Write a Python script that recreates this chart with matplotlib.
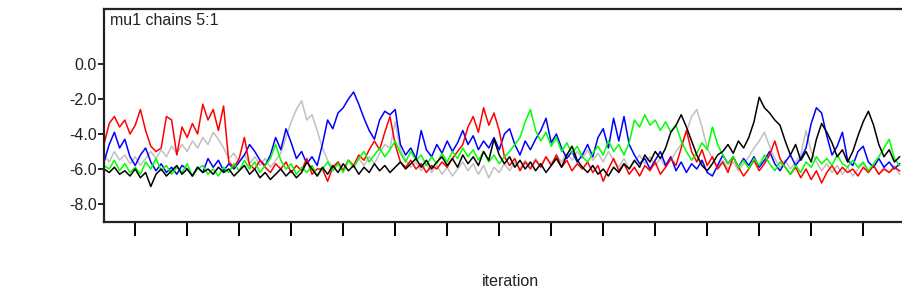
import numpy as np
import matplotlib
matplotlib.use("Agg")
import matplotlib.pyplot as plt

plt.rcParams['font.family'] = ['Liberation Sans', 'DejaVu Sans']

# iteration numbers (one sample every 25 iterations)
iterations = 101 + 25 * np.arange(154)

chain_red = [-4.6, -3.4, -3.0, -3.6, -3.2, -4.0, -3.5, -2.6, -3.8, -4.7,
             -5.0, -4.8, -3.0, -3.2, -5.2, -3.6, -4.2, -3.4, -4.0, -2.3,
             -3.2, -2.6, -3.8, -2.4, -5.6, -5.9, -5.4, -4.2, -5.8, -6.0,
             -5.5, -5.9, -6.2, -5.7, -6.0, -5.6, -6.2, -5.8, -6.1, -5.4,
             -6.3, -6.0, -6.0, -6.7, -5.9, -5.6, -6.1, -5.5, -5.8, -5.2,
             -5.5, -4.9, -4.4, -4.9, -3.9, -3.0, -4.6, -5.6, -5.9, -5.5,
             -6.0, -5.7, -6.2, -5.8, -6.0, -5.6, -5.9, -5.4, -5.0, -4.6,
             -3.6, -3.0, -3.9, -2.5, -3.5, -2.8, -3.8, -5.3, -5.8, -5.4,
             -6.1, -5.6, -6.0, -5.5, -5.9, -5.3, -5.8, -5.2, -5.9, -5.5,
             -6.1, -5.7, -6.0, -5.6, -6.2, -5.8, -6.7, -6.0, -5.4, -6.1,
             -5.7, -6.3, -5.9, -6.4, -5.8, -6.1, -5.6, -6.3, -5.9, -5.4,
             -5.8, -4.8, -3.8, -5.0, -5.6, -4.9, -5.8, -5.3, -6.0, -5.6,
             -6.2, -5.3, -5.9, -6.4, -6.0, -5.5, -6.1, -5.7, -5.2, -4.4,
             -5.4, -5.9, -6.3, -5.9, -6.5, -6.0, -6.6, -6.1, -6.8, -6.2,
             -5.8, -6.3, -5.9, -6.2, -6.0, -6.4, -5.9, -6.2, -5.8, -6.3,
             -6.0, -6.2, -5.9, -6.1]

chain_blue = [-5.6, -4.6, -3.9, -4.8, -4.3, -5.3, -5.8, -5.2, -4.8, -5.6,
              -6.1, -5.7, -6.2, -5.9, -6.3, -5.8, -6.0, -6.4, -5.9, -6.2,
              -5.4, -5.9, -5.5, -6.1, -5.7, -6.0, -5.6, -5.2, -4.6, -5.0,
              -5.5, -5.8, -5.2, -4.2, -4.9, -3.7, -4.5, -5.4, -5.0, -5.7,
              -5.3, -5.8, -4.6, -3.2, -3.7, -2.8, -2.5, -2.0, -1.6, -2.3,
              -3.1, -3.8, -4.3, -3.2, -2.7, -2.9, -2.6, -4.6, -5.2, -4.8,
              -5.4, -3.8, -4.9, -5.3, -4.6, -5.1, -4.4, -5.0, -4.5, -3.8,
              -4.6, -4.1, -4.9, -4.4, -4.8, -4.2, -4.9, -4.0, -3.7, -4.6,
              -5.2, -4.4, -4.9, -4.3, -3.8, -3.1, -4.5, -4.0, -4.8, -5.4,
              -5.0, -5.6, -5.2, -4.6, -5.3, -4.2, -3.7, -4.8, -3.1, -4.4,
              -3.0, -4.6, -5.2, -5.7, -5.4, -6.0, -5.5, -5.0, -5.8, -5.3,
              -6.1, -5.6, -6.2, -5.7, -6.0, -5.5, -6.2, -6.4, -5.8, -5.2,
              -5.7, -5.3, -5.9, -5.4, -5.8, -5.3, -5.9, -5.5, -5.0, -5.7,
              -6.1, -5.6, -5.2, -5.8, -5.4, -4.8, -3.4, -2.5, -2.8, -4.1,
              -5.2, -4.7, -3.9, -5.5, -5.8, -5.0, -4.7, -5.6, -5.9, -5.4,
              -5.9, -5.6, -6.0, -5.7]

chain_green = [-5.8, -6.0, -5.5, -6.1, -5.7, -6.2, -5.9, -6.3, -5.6, -6.0,
               -5.4, -6.1, -5.8, -6.3, -5.9, -6.2, -5.7, -6.4, -6.0, -5.8,
               -6.3, -6.0, -6.4, -5.9, -6.2, -5.7, -6.1, -5.5, -6.0, -5.6,
               -6.2, -5.8, -5.4, -4.6, -5.5, -6.0, -5.7, -6.3, -5.9, -6.2,
               -5.8, -6.4, -6.0, -5.6, -6.1, -5.7, -6.2, -5.5, -5.9, -5.4,
               -5.0, -5.6, -5.2, -4.8, -5.3, -4.9, -4.4, -5.1, -5.6, -5.0,
               -5.5, -5.2, -5.8, -5.3, -5.7, -5.1, -5.6, -5.0, -5.4, -4.8,
               -5.3, -4.9, -5.5, -5.0, -5.6, -5.2, -5.7, -5.3, -5.0, -4.6,
               -4.2, -3.3, -2.6, -3.8, -4.4, -3.9, -4.7, -4.2, -5.0, -4.5,
               -5.1, -4.7, -5.3, -5.6, -5.1, -4.7, -5.2, -4.4, -5.0, -4.6,
               -5.2, -4.5, -3.2, -3.6, -2.9, -3.5, -3.2, -3.8, -3.3, -3.9,
               -3.5, -4.4, -5.0, -5.5, -5.1, -4.5, -4.9, -3.6, -4.6, -5.2,
               -5.7, -5.3, -5.9, -5.5, -6.0, -5.4, -5.8, -5.2, -5.7, -6.1,
               -5.6, -5.9, -6.3, -5.8, -6.2, -5.6, -5.9, -5.3, -5.7, -5.4,
               -5.8, -5.2, -5.7, -5.9, -5.5, -5.9, -5.6, -6.1, -5.7, -5.3,
               -4.8, -4.3, -5.4, -5.8]

chain_black = [-6.0, -6.2, -5.9, -6.3, -6.1, -6.4, -6.0, -6.5, -6.2, -7.0,
               -6.3, -6.0, -6.4, -6.1, -5.8, -6.3, -6.0, -6.4, -5.9, -6.2,
               -6.0, -6.3, -5.9, -6.2, -6.0, -6.4, -6.1, -5.8, -6.3, -6.0,
               -6.5, -6.2, -6.6, -6.3, -6.0, -6.4, -6.1, -6.5, -6.2, -5.6,
               -6.0, -6.4, -5.9, -6.3, -5.8, -6.2, -5.7, -6.1, -5.8, -6.3,
               -5.9, -6.2, -5.7, -6.1, -5.8, -6.2, -5.9, -5.6, -6.0, -5.7,
               -5.4, -5.9, -5.5, -6.0, -5.6, -5.3, -5.8, -5.4, -5.9, -5.2,
               -5.7, -5.3, -5.8, -5.0, -5.5, -4.3, -5.2, -5.7, -5.3, -5.9,
               -5.5, -6.0, -5.6, -6.1, -5.7, -6.2, -5.8, -5.4, -5.9, -5.2,
               -4.7, -5.5, -5.9, -6.2, -5.8, -6.3, -6.0, -6.4, -5.9, -6.2,
               -5.7, -6.0, -5.5, -5.9, -5.2, -5.6, -5.0, -5.4, -4.8, -3.9,
               -3.5, -2.9, -3.6, -4.4, -5.2, -5.8, -6.1, -5.7, -5.2, -5.0,
               -4.6, -5.1, -4.4, -4.8, -4.2, -3.3, -1.9, -2.5, -2.8, -3.2,
               -3.5, -4.4, -5.2, -4.6, -5.5, -5.0, -5.6, -4.3, -3.4, -3.9,
               -4.5, -5.3, -4.9, -5.6, -5.0, -4.1, -3.3, -2.7, -3.5, -4.6,
               -5.3, -4.9, -5.6, -5.3]

chain_gray = [-5.2, -5.6, -5.0, -5.5, -5.2, -5.7, -5.3, -5.8, -5.4, -5.0,
              -5.4, -4.9, -5.3, -4.7, -5.1, -4.6, -5.0, -4.4, -4.8, -4.2,
              -4.6, -3.9, -4.3, -4.8, -5.4, -5.1, -5.6, -5.2, -5.7, -5.3,
              -5.8, -5.4, -5.9, -5.5, -5.1, -4.2, -3.3, -2.6, -2.1, -3.2,
              -2.9, -3.8, -4.8, -5.5, -5.9, -5.6, -6.0, -5.5, -5.9, -5.4,
              -5.8, -5.3, -5.7, -5.1, -4.6, -4.8, -3.3, -4.9, -5.5, -5.9,
              -5.6, -6.1, -5.7, -6.2, -5.8, -6.3, -5.9, -6.4, -6.0, -5.6,
              -6.1, -5.7, -6.3, -5.8, -6.5, -5.9, -6.2, -5.7, -6.1, -5.6,
              -6.0, -5.5, -5.9, -5.4, -5.8, -5.3, -5.7, -5.2, -5.6, -5.1,
              -5.5, -5.0, -5.4, -4.9, -5.5, -5.1, -5.6, -5.0, -5.5, -5.9,
              -5.4, -6.0, -5.6, -5.2, -5.7, -5.3, -5.8, -5.4, -5.9, -5.5,
              -5.0, -4.6, -3.9, -3.0, -2.6, -3.6, -4.8, -5.4, -5.9, -5.5,
              -6.0, -5.6, -6.1, -5.7, -5.3, -4.8, -4.4, -3.9, -4.7, -5.4,
              -5.9, -5.5, -6.0, -5.6, -5.2, -3.8, -5.0, -5.6, -6.1, -5.7,
              -6.2, -5.8, -6.3, -5.9, -6.4, -6.0, -5.7, -6.2, -5.8, -6.3,
              -5.9, -6.2, -5.8, -6.3]

y_ticks = [0.0, -2.0, -4.0, -6.0, -8.0]
y_tick_labels = ["0.0", "-2.0", "-4.0", "-6.0", "-8.0"]
x_ticks = list(range(250, 3751, 250))

W, H = 902, 305
fig = plt.figure(figsize=(W / 100, H / 100), dpi=100)
ax_left, ax_right, ax_top, ax_bottom = 104, 902, 9, 222
ax = fig.add_axes([ax_left / W, 1 - ax_bottom / H,
                   (ax_right - ax_left) / W, (ax_bottom - ax_top) / H])

iter_per_px = 250 / 52.0
series = [(chain_gray, '#c0c0c0'), (chain_blue, '#0000ff'),
          (chain_red, '#ff0000'), (chain_green, '#00ff00'),
          (chain_black, '#000000')]
for vals, col in series:
    ax.plot(iterations, vals, color=col, lw=1.1)

ax.set_xlim(101, 101 + (ax_right - ax_left) * iter_per_px)
ax.set_ylim((64 - ax_bottom) / 17.5, (64 - ax_top) / 17.5)

ax.set_yticks(y_ticks)
ax.set_yticklabels(y_tick_labels, fontsize=11.5, color='#222222')
ax.set_xticks(x_ticks)
ax.set_xticklabels([])
ax.tick_params(axis='y', direction='out', length=4, width=1.2, pad=1)
ax.tick_params(axis='x', direction='out', length=10, width=1.4)

for s in ['left', 'top', 'bottom']:
    ax.spines[s].set_linewidth(1.6)
    ax.spines[s].set_color('#222222')
ax.spines['right'].set_visible(False)

ax.text(0.008, 0.945, "mu1 chains 5:1", transform=ax.transAxes,
        fontsize=11.5, color='#222222', va='center', ha='left')

fig.text(510 / W, 1 - 282 / H, "iteration", fontsize=11.5, color='#222222',
         ha='center', va='center')

fig.savefig("out.png", dpi=100)
